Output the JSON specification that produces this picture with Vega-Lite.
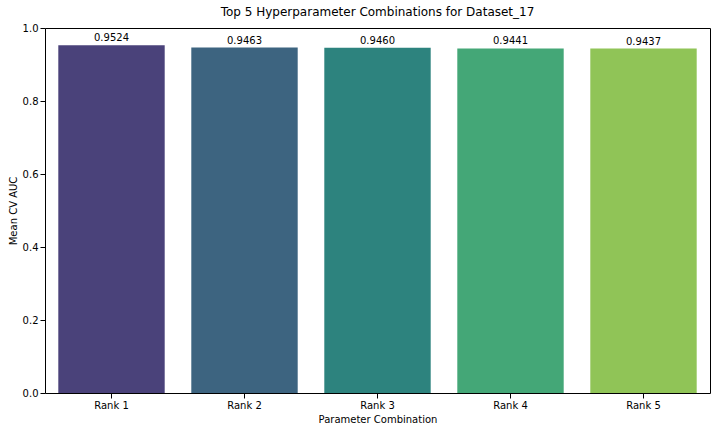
{
  "$schema": "https://vega.github.io/schema/vega-lite/v6.json",
  "width": 720,
  "height": 432,
  "autosize": {"type": "fit", "contains": "padding"},
  "padding": {"left": 8, "right": 10, "top": 6, "bottom": 8},
  "config": {
    "font": "DejaVu Sans",
    "view": {"stroke": "black", "strokeWidth": 1},
    "axis": {"grid": false, "domain": false, "tickColor": "black", "labelColor": "black", "titleColor": "black", "labelFontSize": 10, "titleFontSize": 10, "titleFontWeight": "normal"}
  },
  "title": {"text": "Top 5 Hyperparameter Combinations for Dataset_17", "fontSize": 12, "fontWeight": "normal", "color": "black"},
  "data": {
    "values": [
      {"rank": "Rank 1", "auc": 0.9524},
      {"rank": "Rank 2", "auc": 0.9463},
      {"rank": "Rank 3", "auc": 0.9460},
      {"rank": "Rank 4", "auc": 0.9441},
      {"rank": "Rank 5", "auc": 0.9437}
    ]
  },
  "encoding": {
    "x": {"field": "rank", "type": "nominal", "title": "Parameter Combination", "scale": {"paddingInner": 0.2, "paddingOuter": 0.1}, "axis": {"labelAngle": 0}},
    "y": {"field": "auc", "type": "quantitative", "title": "Mean CV AUC", "scale": {"domain": [0, 1]}, "axis": {"tickCount": 5, "format": ".1f"}}
  },
  "layer": [
    {
      "mark": {"type": "bar"},
      "encoding": {
        "color": {"field": "rank", "type": "nominal", "legend": null, "scale": {"range": ["#4a427a", "#3d6480", "#2d837e", "#44a777", "#90c457"]}}
      }
    },
    {
      "mark": {"type": "text", "baseline": "bottom", "dy": -2, "fontSize": 10, "color": "black"},
      "encoding": {"text": {"field": "auc", "type": "quantitative", "format": ".4f"}}
    }
  ]
}
